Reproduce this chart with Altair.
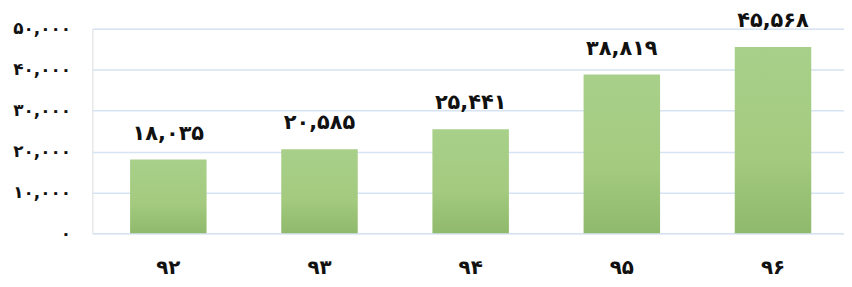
import altair as alt
import pandas as pd

categories = ["۹۲", "۹۳", "۹۴", "۹۵", "۹۶"]
values = [18035, 20585, 25441, 38819, 45568]
value_labels = ["۱۸,۰۳۵", "۲۰,۵۸۵", "۲۵,۴۴۱", "۳۸,۸۱۹", "۴۵,۵۶۸"]
y_ticks = [0, 10000, 20000, 30000, 40000, 50000]
y_tick_labels = ["۰", "۱۰,۰۰۰", "۲۰,۰۰۰", "۳۰,۰۰۰", "۴۰,۰۰۰", "۵۰,۰۰۰"]

df = pd.DataFrame({"year": categories, "value": values, "label": value_labels})

FONT = "DejaVu Sans"
label_expr = "[" + ",".join(f"'{t}'" for t in y_tick_labels) + "][round(datum.value/10000)]"

x = alt.X("year:N", sort=categories, title=None,
          scale=alt.Scale(paddingInner=0.494, paddingOuter=0.233, align=0.535),
          axis=alt.Axis(labelAngle=0, ticks=False, domain=False, labelFont=FONT,
                        labelFontSize=20, labelFontWeight="bold", labelColor="#111111",
                        labelBaseline="middle", labelPadding=34))
y = alt.Y("value:Q", title=None,
          scale=alt.Scale(domain=[0, 50000], nice=False),
          axis=alt.Axis(values=y_ticks, labelExpr=label_expr, ticks=False, domain=False,
                        grid=True, gridColor="#d5e3f2", gridWidth=1.5,
                        labelFont=FONT, labelFontSize=17, labelFontWeight="bold",
                        labelColor="#111111", labelPadding=22))

bars = alt.Chart(df).mark_bar(
    color=alt.Gradient(gradient="linear", x1=0, y1=0, x2=0, y2=1,
                       stops=[alt.GradientStop(color="#a9d08a", offset=0),
                              alt.GradientStop(color="#a3ca7e", offset=0.6),
                              alt.GradientStop(color="#8fb96c", offset=1)])
).encode(x=x, y=y)

text = alt.Chart(df).mark_text(
    font=FONT, fontSize=21, fontWeight="bold", color="#111111",
    baseline="middle", dy=-26
).encode(x=alt.X("year:N", sort=categories), y="value:Q", text="label:N")

chart = (bars + text).properties(
    width=757, height=206,
    padding={"left": 85, "top": 20, "right": 0, "bottom": 45},
    autosize=alt.AutoSizeParams(type="none"),
).configure_view(stroke=None).configure(background="white")

chart.save("out.html", embed_options={"renderer": "svg", "actions": False})
